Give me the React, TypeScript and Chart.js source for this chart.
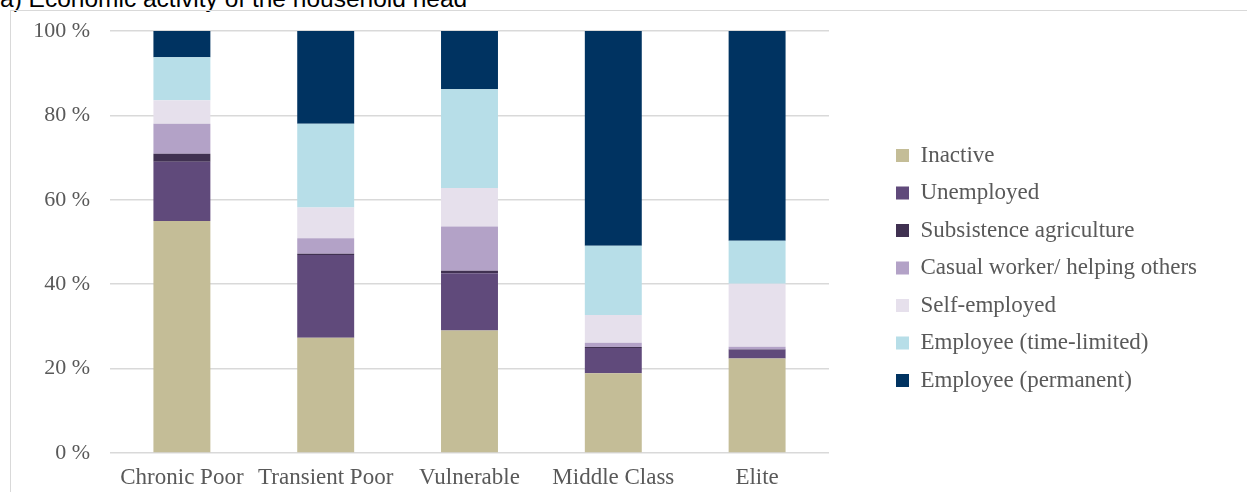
import React, { useEffect, useRef } from "react";
import { Chart, registerables } from "chart.js";

Chart.register(...registerables);

const categories = ["Chronic Poor", "Transient Poor", "Vulnerable", "Middle Class", "Elite"];
const inactive = [55.0, 27.3, 29.0, 18.9, 22.4];
const unemployed = [14.0, 19.6, 13.6, 6.0, 2.1];
const subsistence = [1.9, 0.3, 0.6, 0.2, 0.1];
const casual = [7.1, 3.7, 10.5, 1.0, 0.6];
const selfEmployed = [5.6, 7.3, 9.1, 6.6, 14.9];
const timeLimited = [10.2, 19.8, 23.4, 16.4, 10.2];
const permanent = [6.2, 22.0, 13.8, 50.9, 49.7];
const yTicks = [0, 20, 40, 60, 80, 100];

const seriesNames = [
  "Inactive",
  "Unemployed",
  "Subsistence agriculture",
  "Casual worker/ helping others",
  "Self-employed",
  "Employee (time-limited)",
  "Employee (permanent)",
];
const seriesData = [inactive, unemployed, subsistence, casual, selfEmployed, timeLimited, permanent];
const seriesColors = ["#c4bd97", "#604a7b", "#403151", "#b3a2c7", "#e6e0ec", "#b7dee8", "#003361"];

const FONT = "'Liberation Serif', 'Times New Roman', serif";
const TEXT = "#595959";
const CANVAS_W = 1236;
const CANVAS_H = 481;
const LEGEND_LEFT = 870.5;

export default function App() {
  const ref = useRef<HTMLCanvasElement | null>(null);

  useEffect(() => {
    if (!ref.current) return;
    const legendFix = {
      id: "legendFix",
      beforeInit(chart: any) {
        const lg = chart.legend;
        if (lg && !lg.__patched) {
          const orig = lg.fit;
          lg.fit = function (this: any) {
            orig.call(this);
            this.width = CANVAS_W - LEGEND_LEFT;
          };
          lg.__patched = true;
        }
      },
      afterLayout(chart: any) {
        const lg = chart.legend;
        if (lg) {
          lg.top += 6.5;
          lg.bottom += 6.5;
        }
      },
    };
    const chart = new Chart(ref.current, {
      type: "bar",
      data: {
        labels: categories,
        datasets: seriesNames.map((name, i) => ({
          label: name,
          data: seriesData[i],
          backgroundColor: seriesColors[i],
          borderWidth: 0,
          categoryPercentage: 1,
          barPercentage: 0.396,
        })),
      },
      options: {
        animation: false,
        responsive: false,
        maintainAspectRatio: false,
        layout: { padding: { top: 20, bottom: 0, left: 0, right: 0 } },
        plugins: {
          tooltip: { enabled: false },
          legend: {
            position: "right",
            labels: {
              boxWidth: 13,
              boxHeight: 13,
              padding: 14.5,
              color: TEXT,
              font: { family: FONT, size: 23 },
            },
          },
        },
        scales: {
          x: {
            stacked: true,
            grid: { display: false, drawTicks: false },
            border: { display: false },
            ticks: { color: TEXT, font: { family: FONT, size: 23 }, padding: 11.2, maxRotation: 0, autoSkip: false },
            afterFit: (s: any) => {
              s.height = 39;
            },
          },
          y: {
            stacked: true,
            min: 0,
            max: 100,
            afterFit: (s: any) => {
              s.width = 99;
              s.paddingTop = 0;
              s.paddingBottom = 0;
            },
            afterBuildTicks: (s: any) => {
              s.ticks = yTicks.map((v) => ({ value: v }));
            },
            grid: { color: "#d9d9d9", lineWidth: 1.5, drawTicks: false },
            border: { display: false },
            ticks: {
              color: TEXT,
              font: { family: FONT, size: 22 },
              padding: 20,
              callback: (v: any) => v + " %",
            },
          },
          yR: {
            type: "linear",
            position: "right",
            display: true,
            grid: { display: false, drawTicks: false },
            border: { display: false },
            ticks: { display: false },
            afterFit: (s: any) => {
              s.width = LEGEND_LEFT - 818;
              s.paddingTop = 0;
              s.paddingBottom = 0;
            },
          },
        },
      },
      plugins: [legendFix],
    } as any);
    return () => chart.destroy();
  }, []);

  return (
    <div style={{ position: "fixed", left: 0, top: 0, width: 1247, height: 492, overflow: "hidden", background: "#fff" }}>
      <div
        style={{
          position: "absolute",
          left: 0,
          top: -12.8,
          fontFamily: "'Liberation Sans', Arial, sans-serif",
          fontSize: 24.5,
          lineHeight: "24px",
          color: "#000",
          whiteSpace: "nowrap",
        }}
      >
        a) Economic activity of the household head
      </div>
      <div
        style={{
          position: "absolute",
          left: 10,
          top: 10,
          width: 1245,
          height: 500,
          border: "1px solid #d9d9d9",
          boxSizing: "border-box",
        }}
      >
        <canvas ref={ref} width={CANVAS_W} height={CANVAS_H} style={{ display: "block" }} />
      </div>
    </div>
  );
}
